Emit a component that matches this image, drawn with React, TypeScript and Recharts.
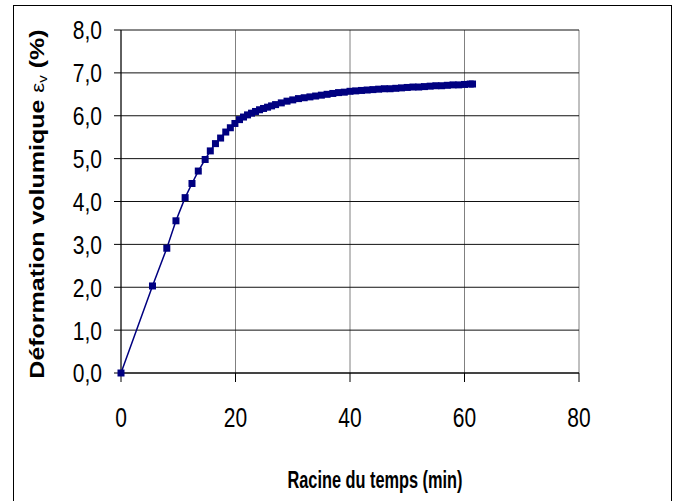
import React from 'react';
import {
  LineChart,
  Line,
  XAxis,
  YAxis,
  CartesianGrid,
} from 'recharts';

// Racine du temps (x) and déformation volumique (y)
const sqrtTime = [
  0, 5.5, 8.0, 9.6, 11.2, 12.4, 13.5, 14.7, 15.6, 16.5, 17.4, 18.3, 19.1, 19.9,
  20.7, 21.4, 22.1, 22.8, 23.5, 24.2, 24.9, 25.6, 26.3, 27, 28, 29, 30, 31, 32,
  33, 34, 35, 36, 37, 38, 39, 40, 41, 42, 43, 44, 45, 46, 47, 48, 49, 50, 51, 52,
  53, 54, 55, 56, 57, 58, 59, 60, 61, 61.4,
];
const deformation = [
  0, 2.03, 2.91, 3.55, 4.09, 4.42, 4.71, 4.98, 5.18, 5.35, 5.48, 5.62, 5.72, 5.82,
  5.91, 5.97, 6.02, 6.06, 6.1, 6.14, 6.17, 6.2, 6.23, 6.26, 6.3, 6.34, 6.37, 6.4, 6.42,
  6.44, 6.46, 6.48, 6.5, 6.52, 6.54, 6.55, 6.57, 6.58, 6.59, 6.6, 6.61, 6.62, 6.63, 6.63, 6.64, 6.65, 6.66, 6.67, 6.67,
  6.68, 6.69, 6.7, 6.7, 6.71, 6.72, 6.72, 6.73, 6.74, 6.74,
];
const xTicks = [0, 20, 40, 60, 80];
const yTicks = [0, 1, 2, 3, 4, 5, 6, 7, 8];

const data = sqrtTime.map((x, i) => ({ x, y: deformation[i] }));

const FONT = '"Liberation Sans", Arial, sans-serif';
const NAVY = '#000080';

const SquareDot = (props: any) => {
  const { cx, cy, index } = props;
  return <rect key={`d${index}`} x={cx - 3.5} y={cy - 3.5} width={7} height={7} fill={NAVY} />;
};

const XTick = (props: any) => {
  const { x, y, payload } = props;
  return (
    <g transform={`translate(${x},${y}) scale(1,1.3)`}>
      <text x={0} y={33} textAnchor="middle" fontSize={21} fontFamily={FONT} fill="#000">
        {payload.value}
      </text>
    </g>
  );
};

const YTick = (props: any) => {
  const { x, y, payload } = props;
  return (
    <g transform={`translate(${x},${y}) scale(1,1.25)`}>
      <text x={0} y={7.5} textAnchor="end" fontSize={21} fontFamily={FONT} fill="#000">
        {payload.value.toFixed(1).replace('.', ',')}
      </text>
    </g>
  );
};

export default function App() {
  return (
    <div style={{ position: 'absolute', left: 0, top: 0, width: 675, height: 501, overflow: 'hidden', background: '#fff' }}>
      <div
        style={{
          position: 'absolute',
          left: 13,
          top: 5,
          width: 659,
          height: 520,
          border: '1px solid #000',
          boxSizing: 'border-box',
        }}
      />
      <div style={{ position: 'absolute', left: 0, top: 0 }}>
        <LineChart
          width={675}
          height={501}
          data={data}
          margin={{ top: 30, right: 96, left: 61, bottom: 98 }}
        >
          <CartesianGrid horizontal={false} stroke="#808080" strokeWidth={1} />
          <CartesianGrid vertical={false} stroke="#111" strokeWidth={1} />
          <XAxis
            dataKey="x"
            type="number"
            domain={[0, 80]}
            ticks={xTicks}
            height={30}
            tickSize={9}
            tickMargin={2}
            axisLine={{ stroke: '#000' }}
            tickLine={{ stroke: '#000' }}
            tick={<XTick />}
            interval={0}
          />
          <YAxis
            type="number"
            domain={[0, 8]}
            ticks={yTicks}
            width={60}
            tickSize={7}
            tickMargin={12}
            axisLine={{ stroke: '#000' }}
            tickLine={{ stroke: '#000' }}
            tick={<YTick />}
            interval={0}
          />
          <Line
            type="linear"
            dataKey="y"
            stroke={NAVY}
            strokeWidth={1.5}
            dot={SquareDot}
            activeDot={false}
            isAnimationActive={false}
          />
          <text
            x={375}
            y={488}
            textAnchor="middle"
            fontSize={23}
            fontWeight="bold"
            fontFamily={'"Liberation Sans Narrow", "Liberation Sans", Arial, sans-serif'}
            textLength={175}
            lengthAdjust="spacingAndGlyphs"
            fill="#000"
          >
            Racine du temps (min)
          </text>
          <g transform="translate(44,204) rotate(-90) scale(1.25,1)">
            <text
              x={0}
              y={0}
              textAnchor="middle"
              fontSize={20}
              fontWeight="bold"
              fontFamily={FONT}
              fill="#000"
            >
              Déformation volumique{' '}
              <tspan fontWeight="normal" fontSize={18}>ε</tspan>
              <tspan fontWeight="normal" fontSize={12} dy={3}>v</tspan>
              <tspan dy={-3}> (%)</tspan>
            </text>
          </g>
        </LineChart>
      </div>
    </div>
  );
}
